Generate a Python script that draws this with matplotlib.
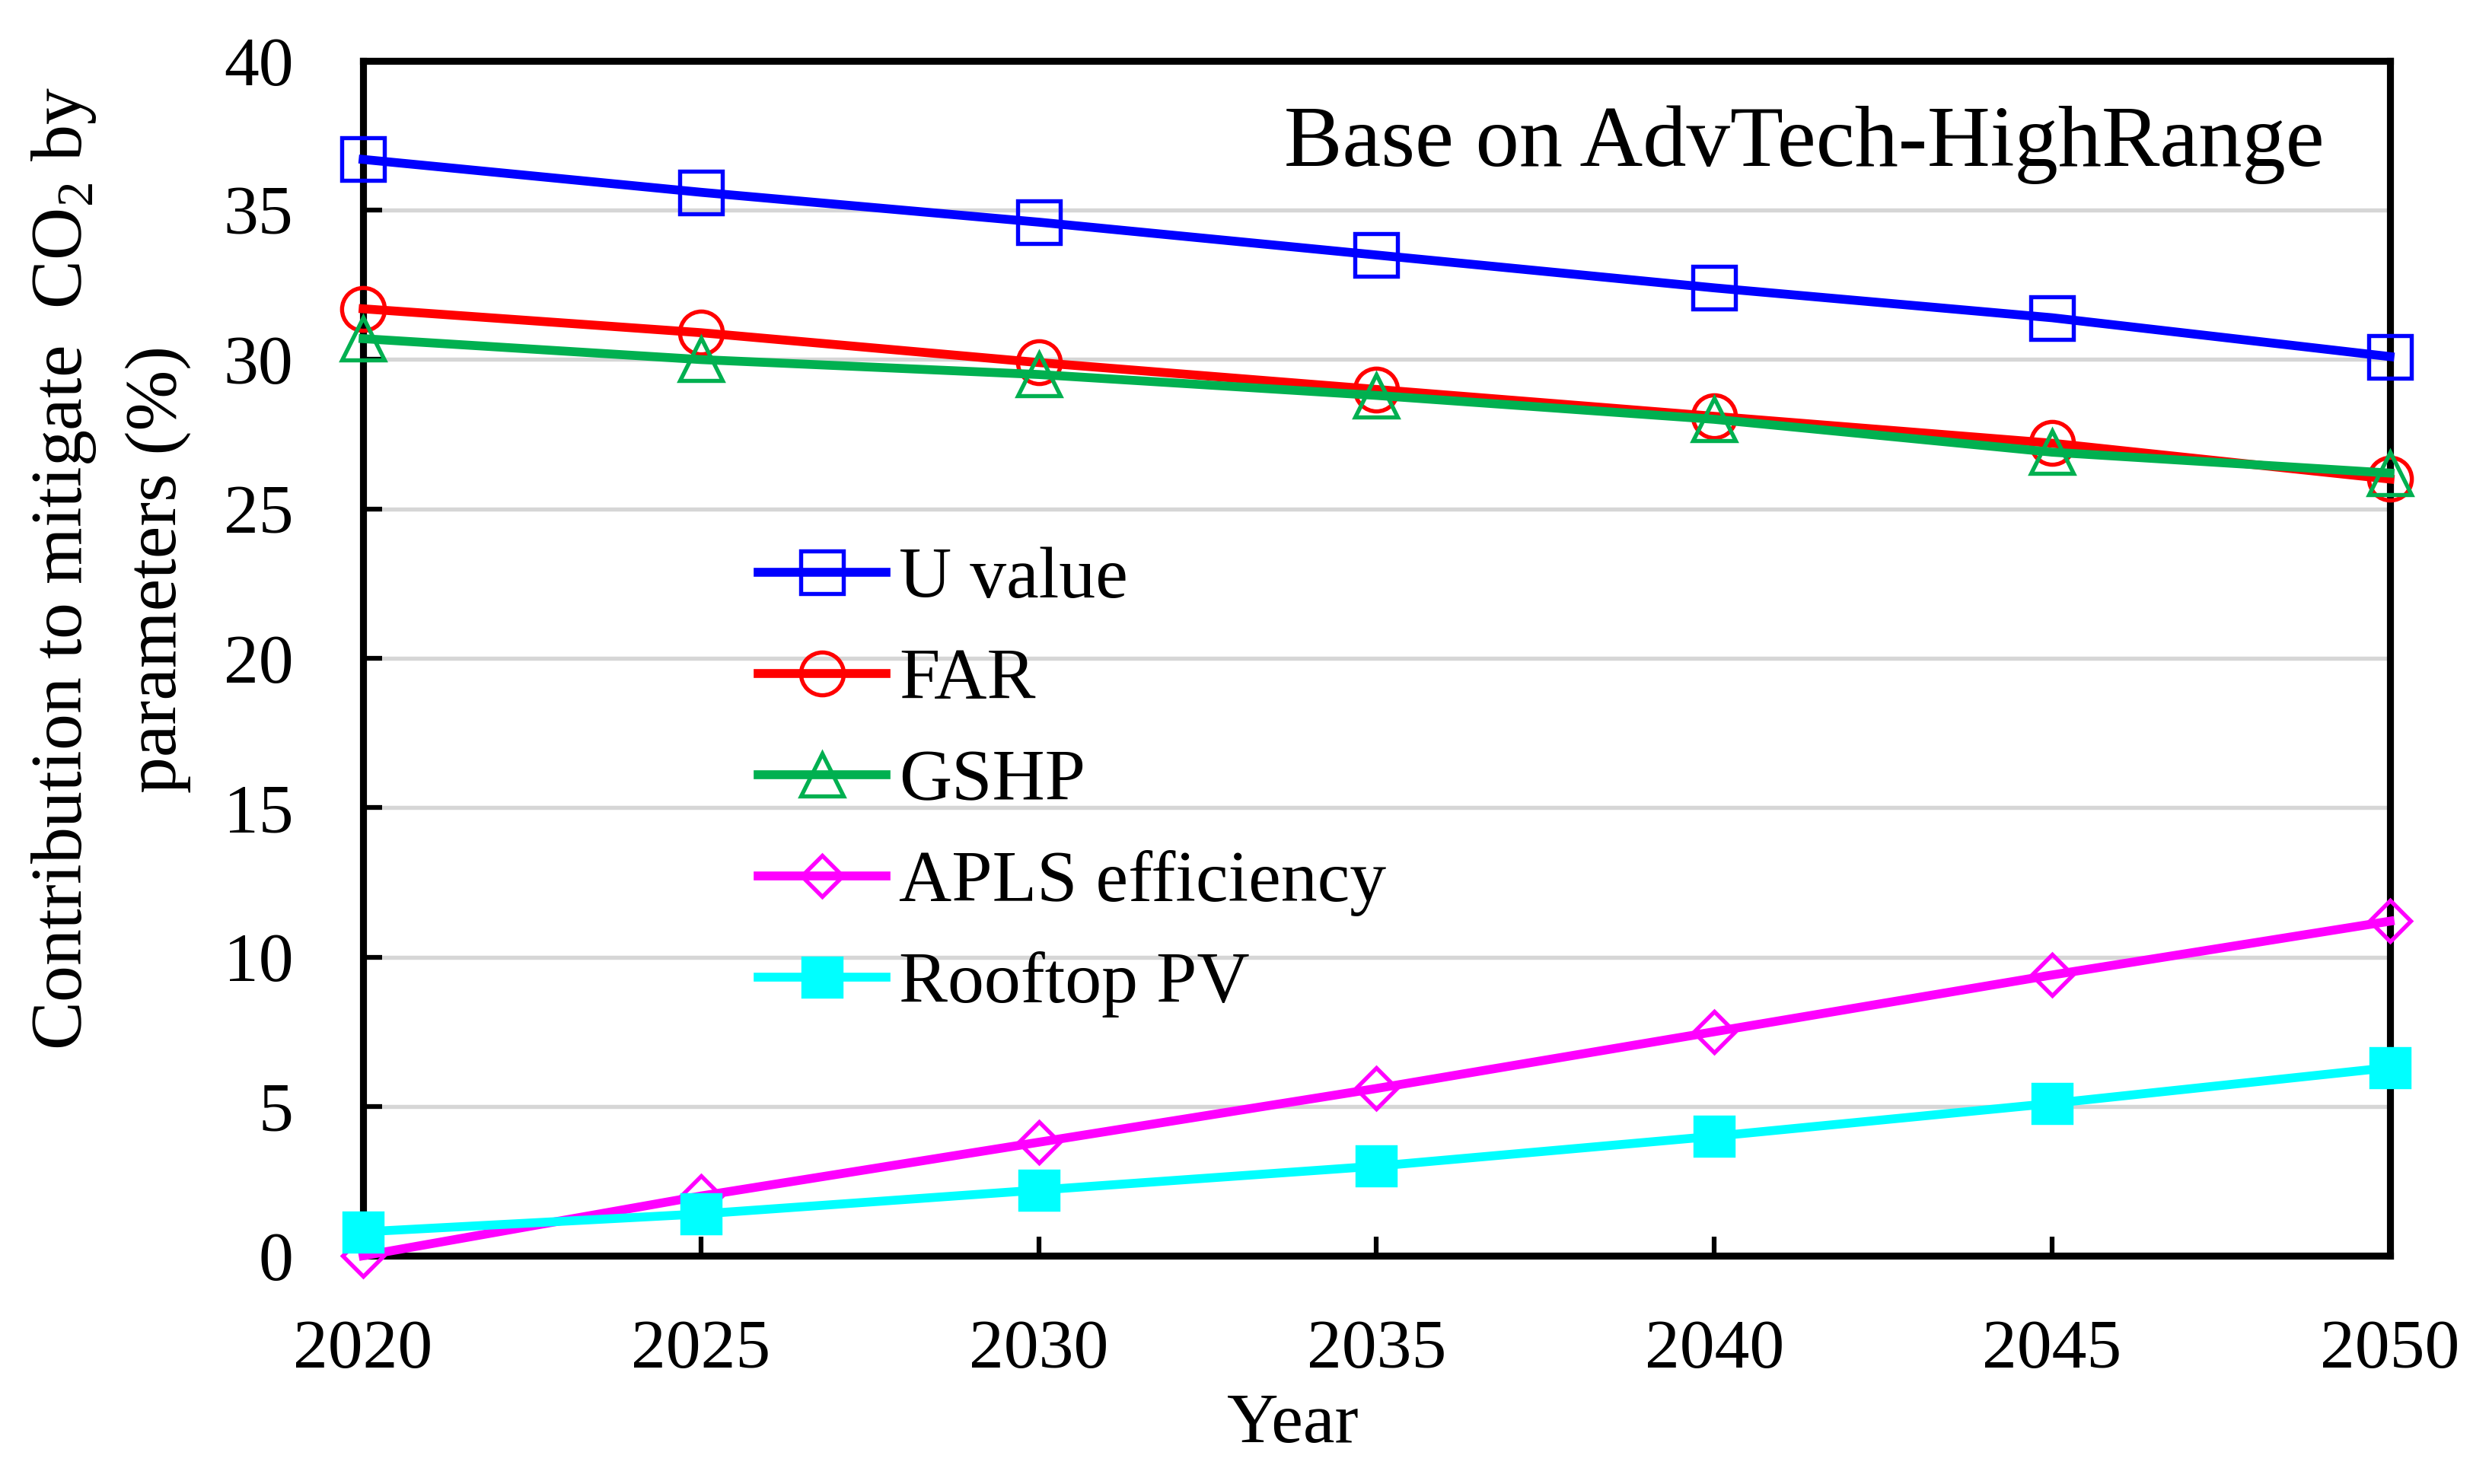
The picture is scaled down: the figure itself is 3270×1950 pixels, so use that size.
import matplotlib
matplotlib.use("Agg")
import matplotlib.pyplot as plt

years = [2020, 2025, 2030, 2035, 2040, 2045, 2050]
u_value = [36.7, 35.6, 34.6, 33.5, 32.4, 31.4, 30.1]
far = [31.7, 30.9, 29.9, 29.0, 28.1, 27.2, 26.0]
gshp = [30.7, 30.0, 29.5, 28.8, 28.0, 26.9, 26.2]
apls = [0.0, 2.0, 3.8, 5.6, 7.5, 9.4, 11.2]
rooftop_pv = [0.8, 1.4, 2.2, 3.0, 4.0, 5.1, 6.3]
labels = ["U value", "FAR", "GSHP", "APLS efficiency", "Rooftop PV"]
yticks = [0, 5, 10, 15, 20, 25, 30, 35, 40]

plt.rcParams['font.family'] = ['Liberation Serif', 'DejaVu Serif']
plt.rcParams['mathtext.fontset'] = 'custom'
plt.rcParams['mathtext.rm'] = 'Liberation Serif'

fig = plt.figure(figsize=(10.9, 6.5), dpi=300)
ax = fig.add_axes([0.1459, 0.1538, 0.9602 - 0.1459, 0.959 - 0.1538])

series = [
    (u_value, '#0000FF', 's', 13.5, 'none'),
    (far, '#FF0000', 'o', 13.5, 'none'),
    (gshp, '#00B050', '^', 13.5, 'none'),
    (apls, '#FF00FF', 'D', 9.3, 'none'),
    (rooftop_pv, '#00FFFF', 's', 11.8, '#00FFFF'),
]

for (vals, col, m, ms, fc), lab in zip(series, labels):
    ax.plot(years, vals, color=col, lw=2.8, marker=m, markersize=ms,
            markerfacecolor=fc, markeredgecolor=col, markeredgewidth=1.3,
            label=lab, clip_on=False, zorder=3)

ax.set_xlim(2020, 2050)
ax.set_ylim(0, 40)
ax.set_xticks(years)
ax.set_yticks(yticks)
for y in yticks[1:-1]:
    ax.axhline(y, color='#d6d6d6', lw=1.3, zorder=1)

ax.tick_params(axis='both', direction='in', labelsize=22, length=6, width=1.5,
               top=False, right=False)
ax.tick_params(axis='y', pad=22)
ax.tick_params(axis='x', pad=20)

for s in ['top', 'left', 'bottom', 'right']:
    ax.spines[s].set_linewidth(2.2)

fig.text(1698 / 3270, 1 - 1872 / 1950, 'Year', fontsize=22.5, ha='center', va='center')
fig.text(84 / 3270, 1 - 747 / 1950, r'Contribution to mitigate  CO$_\mathregular{2}$ by',
         fontsize=23, rotation=90, ha='center', va='center')
fig.text(208 / 3270, 1 - 748 / 1950, 'parameters (%)',
         fontsize=23, rotation=90, ha='center', va='center')

fig.text(3054 / 3270, 1 - 190 / 1950, 'Base on AdvTech-HighRange', fontsize=27.5,
         ha='right', va='center')

leg = ax.legend(loc='upper left', bbox_to_anchor=(996 / 3270, 1 - 718 / 1950),
                bbox_transform=fig.transFigure, frameon=False, fontsize=23,
                handlelength=1.75, handletextpad=0.18, labelspacing=0.48,
                borderpad=0, borderaxespad=0)

fig.savefig('out.png', dpi=300)
